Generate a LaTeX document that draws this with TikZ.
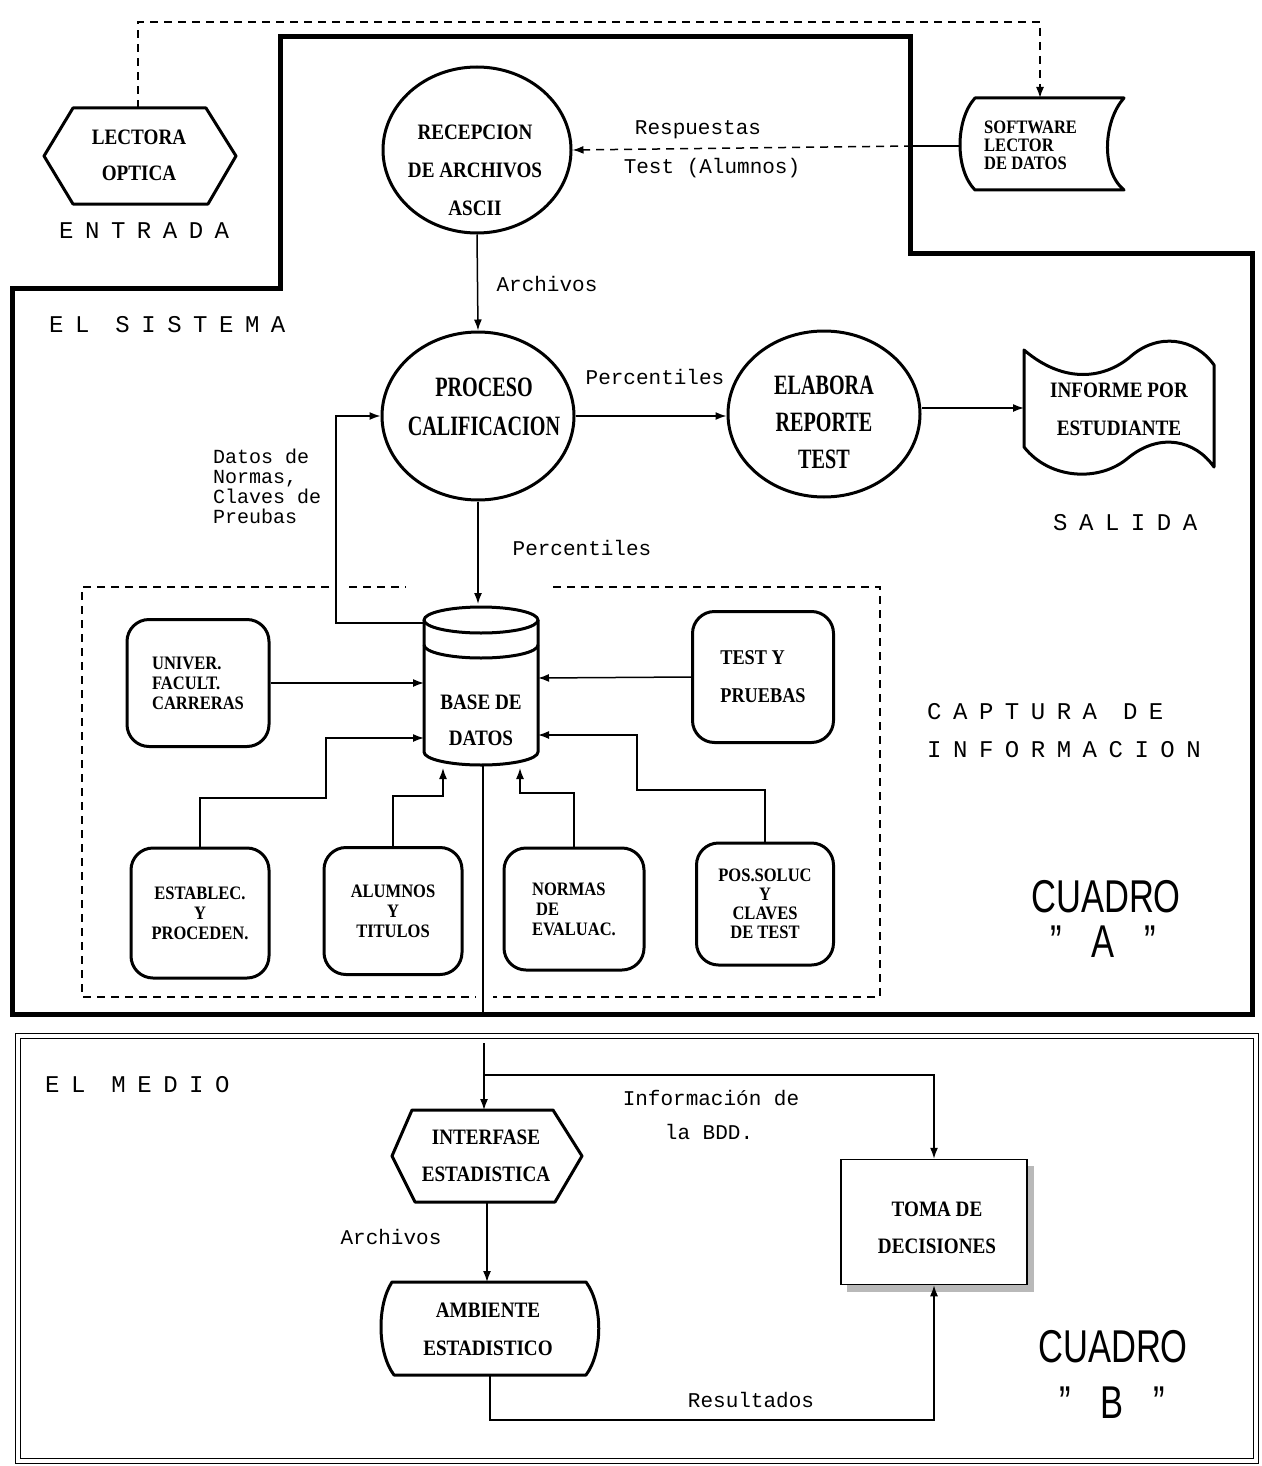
\documentclass[tikz,border=0pt]{standalone}
\usepackage{fontspec}
\usetikzlibrary{arrows.meta,shapes.geometric}
\newfontfamily\nodefont[FakeStretch=0.87]{Liberation Serif}
\newfontfamily\tallfont[FakeStretch=0.72]{Liberation Serif}
\newfontfamily\lblfont{Liberation Mono}
\newfontfamily\spfont[LetterSpace=48]{Liberation Mono}
\newfontfamily\bigfont[FakeStretch=0.75]{Liberation Sans}
\begin{document}
\begin{tikzpicture}[x=1pt,y=-1pt,
  shp/.style={line width=3pt, line join=round},
  conn/.style={line width=1.5pt},
  arr/.style={conn,-{Latex[length=11pt,width=8pt]}},
  dsh/.style={line width=1.5pt, dash pattern=on 8pt off 6pt},
  dsharr/.style={dsh,-{Latex[length=11pt,width=8pt]}},
  ntxt/.style={font=\nodefont\bfseries\fontsize{22}{#1}\selectfont, align=center, inner sep=0pt},
  ttxt/.style={font=\tallfont\bfseries\fontsize{28}{#1}\selectfont, align=center, inner sep=0pt},
  btxt/.style={font=\nodefont\bfseries\fontsize{19}{#1}\selectfont},
  lbl/.style={font=\lblfont\fontsize{21}{19}\selectfont, inner sep=0pt},
  sptxt/.style={font=\spfont\fontsize{24}{36}\selectfont, inner sep=0pt, anchor=west},
  bigtxt/.style={font=\bigfont\fontsize{46}{50}\selectfont, inner sep=0pt},
  proc/.style={draw, ellipse, line width=3pt, inner sep=0pt},
  rbox/.style={draw, line width=3pt, rounded corners=22pt, inner sep=0pt, fill=white}
]
\fill[white] (0,0) rectangle (1261,1466);
\useasboundingbox (0,0) rectangle (1261,1466);

% ---------- Cuadro A outline ----------
\draw[line width=5pt, line join=miter] (280,37) -- (910,37) -- (910,253) -- (1252,253)
  -- (1252,1014) -- (12,1014) -- (12,288) -- (280,288) -- cycle;

% ---------- Cuadro B outline ----------
\draw[line width=1.2pt, double, double distance=4pt] (18,1036) rectangle (1256,1461);

% ---------- LECTORA OPTICA ----------
\draw[shp, fill=white] (44,156) -- (73,108) -- (206,108) -- (236,156) -- (208,204) -- (73,204) -- cycle;
\node[ntxt=36] (lec) at (139,155) {LECTORA\\OPTICA};
\coordinate (lecN) at (138,108);
\node[sptxt] (entrada) at (59,231) {ENTRADA};

% ---------- SOFTWARE LECTOR ----------
\draw[shp, fill=white] (975,98) -- (1124,98) .. controls (1104,120) and (1100,170) .. (1124,190)
  -- (975,190) .. controls (955,170) and (955,120) .. (975,98) -- cycle;
\node[inner sep=0pt, font=\nodefont\bfseries\fontsize{19}{18}\selectfont, align=left, anchor=west] (sw) at (984,145) {SOFTWARE\\LECTOR\\DE DATOS};
\coordinate (swN) at (1040,98);
\coordinate (swW) at (960,146);
\coordinate (cutA) at (912,146);

% top dashed connector
\draw[dsharr] (lecN) -- (138,22) -- (1040,22) -- (swN);

% ---------- RECEPCION ----------
\node[proc, minimum width=188pt, minimum height=166pt] (rec) at (477,150) {};
\node[ntxt=38] (rect) at (475,170) {RECEPCION\\DE ARCHIVOS\\ASCII};

\draw[conn] (swW) -- (cutA);
\draw[dsharr] (cutA) -- (rec.east);
\node[lbl] (resp) at (698,130) {Respuestas};
\node[lbl] (testal) at (712,168) {Test (Alumnos)};

% ---------- PROCESO CALIFICACION ----------
\node[proc, minimum width=192pt, minimum height=168pt] (proc) at (478,416) {};
\node[ttxt=39] (proct) at (484,407) {PROCESO\\CALIFICACION};
\draw[arr] (rec.south) -- (proc.north);
\node[lbl] (arch1) at (547,284) {Archivos};

% ---------- ELABORA REPORTE TEST ----------
\node[proc, minimum width=192pt, minimum height=166pt] (elab) at (824,414) {};
\node[ttxt=37] (elabt) at (824,422) {ELABORA\\REPORTE\\TEST};
\draw[arr] (proc.east) -- (elab.west |- proc.east);
\node[lbl] (perc1) at (655,377) {Percentiles};

% ---------- INFORME POR ESTUDIANTE ----------
\draw[shp, fill=white] (1024,350) .. controls (1065,385) and (1105,378) .. (1130,357)
  .. controls (1158,332) and (1195,338) .. (1214,365) -- (1214,467)
  .. controls (1195,440) and (1160,432) .. (1128,458)
  .. controls (1100,482) and (1050,480) .. (1024,447) -- cycle;
\node[ntxt=38] (inf) at (1119,409) {INFORME POR\\ESTUDIANTE};
\coordinate (infW) at (1024,408);
\draw[arr] (infW -| elab.east) -- (infW);
\node[sptxt] (salida) at (1053,523) {SALIDA};

\node[sptxt] (sist) at (49,325) {EL SISTEMA};

% ---------- dashed capture box ----------
\draw[dsh] (329,587) -- (82,587) -- (82,997) -- (476,997);
\draw[dsh] (349,587) -- (406,587);
\draw[dsh] (553,587) -- (880,587) -- (880,997) -- (493,997);

% ---------- BASE DE DATOS ----------
\draw[shp, fill=white] (424,620) -- (424,752) arc[start angle=180, end angle=0, x radius=57, y radius=13] -- (538,620);
\draw[shp] (481,620) ellipse [x radius=57, y radius=13];
\draw[shp] (424,645) arc[start angle=180, end angle=0, x radius=57, y radius=13];
\node[ntxt=36] (bdd) at (481,720) {BASE DE\\DATOS};
\coordinate (bddT) at (478,604);
\coordinate (bddL0) at (424,623);
\coordinate (bddL1) at (424,683);
\coordinate (bddL2) at (424,738);
\coordinate (bddR1) at (538,678);
\coordinate (bddR2) at (538,735);
\coordinate (bddB1) at (443,768);
\coordinate (bddB2) at (520,768);
\coordinate (bddBot) at (483,765);

\draw[arr] (proc.south) -- (bddT);
\node[lbl] (perc2) at (582,548) {Percentiles};
\draw[arr] (bddL0) -| (336,416) -- (proc.west);
\node[lbl, align=left, anchor=west, font=\lblfont\fontsize{20}{20}\selectfont] (datos) at (213,486) {Datos de\\Normas,\\Claves de\\Preubas};

% ---------- capture boxes ----------
\node[rbox, btxt=20, minimum width=142pt, minimum height=127pt, align=left] (univ) at (198,683) {UNIVER.\\FACULT.\\CARRERAS};
\node[rbox, btxt=38, minimum width=141pt, minimum height=131pt, align=left, font=\nodefont\bfseries\fontsize{21}{38}\selectfont] (test) at (763,677) {TEST Y\\PRUEBAS};
\node[rbox, btxt=20, minimum width=138pt, minimum height=130pt, align=center] (estab) at (200,913) {ESTABLEC.\\Y\\PROCEDEN.};
\node[rbox, btxt=20, minimum width=138pt, minimum height=127pt, align=center] (alum) at (393,911) {ALUMNOS\\Y\\TITULOS};
\node[rbox, btxt=20, minimum width=140pt, minimum height=122pt, align=left] (norm) at (574,909) {NORMAS\\\hspace*{4pt}DE\\EVALUAC.};
\node[rbox, btxt=19, minimum width=137pt, minimum height=122pt, align=center] (pos) at (765,904) {POS.SOLUC\\Y\\CLAVES\\DE TEST};

\draw[arr] (univ.east) -- (bddL1);
\draw[arr] (test.west) -- (bddR1);
\draw[arr] (estab.north) |- (326,798) |- (bddL2);
\draw[arr] (alum.north) |- (443,796) -- (bddB1);
\draw[arr] (norm.north) |- (520,793) -- (bddB2);
\draw[arr] (pos.north) |- (637,790) |- (bddR2);

\node[sptxt] (capt1) at (927,712) {CAPTURA DE};
\node[sptxt] (capt2) at (927,750) {INFORMACION};
\node[bigtxt] (cuaA) at (1106,897) {CUADRO};
\node[bigtxt] (cuaA2) at (1103,942) {”\hspace{30pt}A\hspace{30pt}”};

% line down out of cuadro A
\coordinate (aBot) at (483,1014);
\draw[conn] (bddBot) -- (aBot);

% ---------- Cuadro B ----------
\node[sptxt] (medio) at (45,1085) {EL MEDIO};

\draw[shp, fill=white] (392,1156) -- (412,1110) -- (553,1110) -- (582,1156) -- (555,1202) -- (415,1202) -- cycle;
\node[ntxt=37] (inter) at (486,1156) {INTERFASE\\ESTADISTICA};
\coordinate (intN) at (484,1110);
\coordinate (intS) at (487,1202);

\draw[shp, fill=white] (392,1282) -- (586,1282) .. controls (603,1305) and (603,1352) .. (586,1375)
  -- (394,1375) .. controls (377,1352) and (377,1305) .. (392,1282) -- cycle;
\node[ntxt=38] (amb) at (488,1329) {AMBIENTE\\ESTADISTICO};
\coordinate (ambN) at (487,1282);
\coordinate (ambS) at (490,1375);

\fill[gray!55] (1027,1166) rectangle (1034,1292);
\fill[gray!55] (847,1285) rectangle (1034,1292);
\node[draw, line width=1.5pt, fill=white, minimum width=186pt, minimum height=125pt, inner sep=0pt] (toma) at (934,1222) {};
\node[ntxt=37] (tomat) at (937,1228) {TOMA DE\\DECISIONES};

\coordinate (medTop) at (484,1043);
\coordinate (branch) at (484,1075);
\draw[arr] (medTop) -- (intN);
\draw[arr] (branch) -| (toma.north);
\draw[arr] (intS) -- (ambN);
\draw[arr] (ambS) -- (490,1420) -| (toma.south);

\node[lbl] (infbdd1) at (711,1098) {Información de};
\node[lbl] (infbdd2) at (709,1132) {la BDD.};
\node[lbl] (arch2) at (391,1237) {Archivos};
\node[lbl] (result) at (751,1400) {Resultados};

\node[bigtxt] (cuaB) at (1113,1347) {CUADRO};
\node[bigtxt] (cuaB2) at (1112,1403) {”\hspace{30pt}B\hspace{30pt}”};
\end{tikzpicture}
\end{document}
